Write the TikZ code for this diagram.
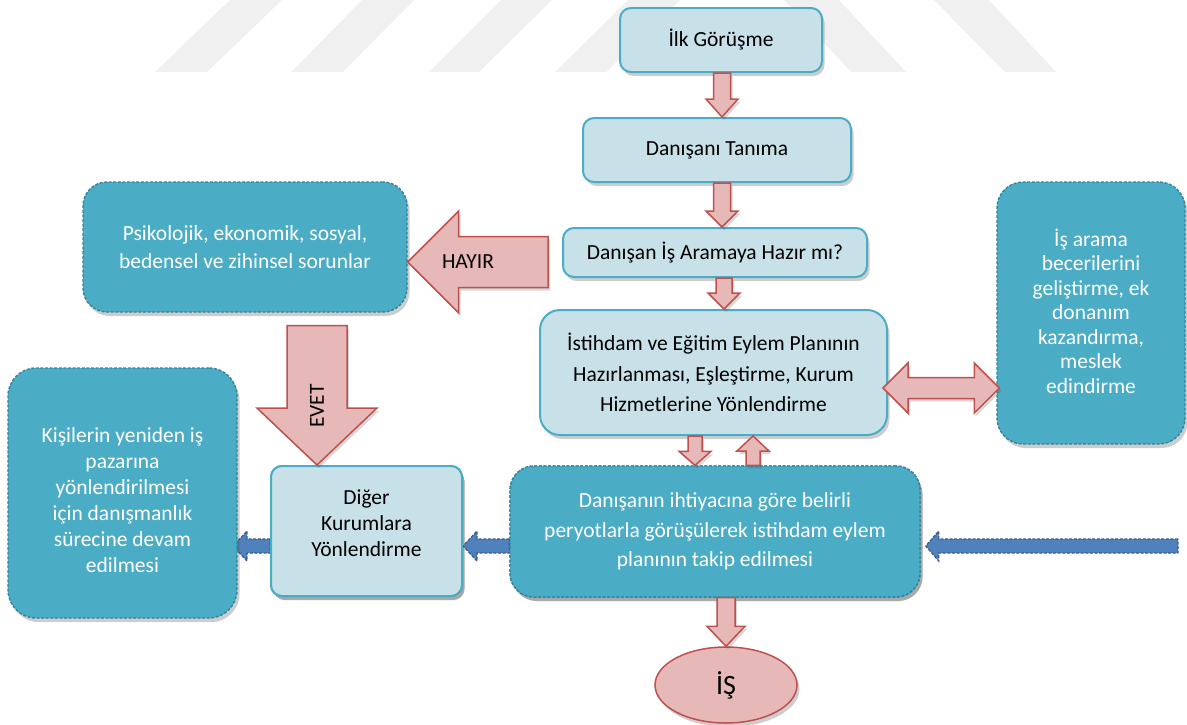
\documentclass[tikz,border=0pt]{standalone}
\usepackage{fontspec}
\setmainfont{Carlito}
\usetikzlibrary{calc,shadows,shapes.geometric}
\definecolor{wmgray}{RGB}{240,240,240}
\definecolor{lfill}{RGB}{200,225,232}
\definecolor{lborder}{RGB}{75,172,198}
\definecolor{tfill}{RGB}{75,172,198}
\definecolor{tborder}{RGB}{49,133,156}
\definecolor{pfill}{RGB}{230,185,184}
\definecolor{pborder}{RGB}{192,80,77}
\definecolor{bfill}{RGB}{79,129,189}
\definecolor{bborder}{RGB}{56,93,138}
% vertical down block arrow: style, from, to, x, half shaft, half head, head length
\newcommand{\vdownblock}[7]{%
  \draw[#1] let \p1=(#2), \p2=(#3) in
    (#4pt-#5pt,\y1) -- (#4pt+#5pt,\y1) -- (#4pt+#5pt,\y2+#7pt) -- (#4pt+#6pt,\y2+#7pt)
    -- (#4pt,\y2) -- (#4pt-#6pt,\y2+#7pt) -- (#4pt-#5pt,\y2+#7pt) -- cycle;}
% vertical up block arrow
\newcommand{\vupblock}[7]{%
  \draw[#1] let \p1=(#2), \p2=(#3) in
    (#4pt-#5pt,\y1) -- (#4pt+#5pt,\y1) -- (#4pt+#5pt,\y2-#7pt) -- (#4pt+#6pt,\y2-#7pt)
    -- (#4pt,\y2) -- (#4pt-#6pt,\y2-#7pt) -- (#4pt-#5pt,\y2-#7pt) -- cycle;}
% horizontal left block arrow: style, tail, tip, y (px down), half shaft, half head, head length
\newcommand{\hleftblock}[7]{%
  \draw[#1] let \p1=(#2), \p2=(#3) in
    (\x1,-#4pt+#5pt) -- (\x2+#7pt,-#4pt+#5pt) -- (\x2+#7pt,-#4pt+#6pt) -- (\x2,-#4pt)
    -- (\x2+#7pt,-#4pt-#6pt) -- (\x2+#7pt,-#4pt-#5pt) -- (\x1,-#4pt-#5pt) -- cycle;}
% horizontal double block arrow: style, left tip, right tip, y, half shaft, half head, head length
\newcommand{\hdoubleblock}[7]{%
  \draw[#1] let \p1=(#2), \p2=(#3) in
    (\x1,-#4pt) -- (\x1+#7pt,-#4pt+#6pt) -- (\x1+#7pt,-#4pt+#5pt) -- (\x2-#7pt,-#4pt+#5pt)
    -- (\x2-#7pt,-#4pt+#6pt) -- (\x2,-#4pt) -- (\x2-#7pt,-#4pt-#6pt) -- (\x2-#7pt,-#4pt-#5pt)
    -- (\x1+#7pt,-#4pt-#5pt) -- (\x1+#7pt,-#4pt-#6pt) -- cycle;}
\begin{document}
\begin{tikzpicture}[x=1pt,y=1pt,
  shad/.style={drop shadow={opacity=0.28,shadow xshift=2.5pt,shadow yshift=-4pt,fill=black!70}},
  lbox/.style={shad,draw=lborder,line width=2pt,fill=lfill,rounded corners=11pt,
    align=center,text=black,inner sep=0pt},
  dbox/.style={shad,draw=tborder,line width=1.4pt,dash pattern=on 3pt off 1.6pt,fill=tfill,
    rounded corners=24pt,align=center,text=white,inner sep=0pt},
  parrow/.style={draw=pborder,line width=1.5pt,fill=pfill,line join=miter,
    drop shadow={opacity=0.22,shadow xshift=2pt,shadow yshift=-3pt,fill=black!70}},
  barrow/.style={draw=bborder,line width=1.2pt,dash pattern=on 3pt off 1.6pt,fill=bfill},
  wm/.style={fill=wmgray,draw=none}]
\useasboundingbox (0,0) rectangle (1187,-724);
% watermark
\fill[wm] (155,-72) -- (207,-72) -- (282,0) -- (230,0) -- cycle;
\fill[wm] (291,-72) -- (343,-72) -- (414,0) -- (362,0) -- cycle;
\fill[wm] (429,-72) -- (479,-72) -- (552,0) -- (501,0) -- cycle;
\fill[wm] (555,-72) -- (606,-72) -- (680,0) -- (628,0) -- cycle;
\fill[wm] (851,-72) -- (906,-72) -- (839,0) -- (784,0) -- cycle;
\fill[wm] (1005,-72) -- (1056,-72) -- (989,0) -- (934,0) -- cycle;
% coordinates for free ends
\coordinate (bluetail) at (1178,-546);
\coordinate (hayirtail) at (548,-262);
% boxes drawn first for the blue arrows (behind)
\node[dbox,minimum width=410pt,minimum height=131pt] (takip) at (715,-531.5) {};
\node[lbox,minimum width=191pt,minimum height=130pt] (diger) at (366.5,-531) {};
\hleftblock{barrow}{bluetail}{$(takip.east)+(5,0)$}{546}{7}{15}{13}
\hleftblock{barrow}{takip.west}{diger.east}{546}{7}{15}{14}
\hleftblock{barrow}{diger.west}{$(diger.west)+(-37,0)$}{546}{7}{15}{14}
% boxes
\node[lbox,minimum width=202pt,minimum height=64pt,font=\fontsize{21.5}{26}\selectfont] (ilk) at (721,-40) {İlk Görüşme};
\node[lbox,minimum width=268pt,minimum height=64pt,font=\fontsize{21.5}{26}\selectfont] (tanima) at (717,-150) {Danışanı Tanıma};
\node[lbox,minimum width=304pt,minimum height=49pt,font=\fontsize{21.5}{26}\selectfont] (hazir) at (715,-252.5) {Danışan İş Aramaya Hazır mı?};
\node[lbox,rounded corners=20pt,minimum width=347pt,minimum height=125pt,font=\fontsize{21.5}{30.5}\selectfont] (plan) at (713.5,-372.5)
  {İstihdam ve Eğitim Eylem Planının\\Hazırlanması, Eşleştirme, Kurum\\Hizmetlerine Yönlendirme};
\node[dbox,minimum width=324pt,minimum height=130pt,font=\fontsize{21.5}{28}\selectfont] (psiko) at (245,-247)
  {Psikolojik, ekonomik, sosyal,\\bedensel ve zihinsel sorunlar};
\node[dbox,rounded corners=26pt,minimum width=188pt,minimum height=262pt,font=\fontsize{21.5}{24.5}\selectfont] (isarama) at (1091,-313)
  {İş arama\\becerilerini\\geliştirme, ek\\donanım\\kazandırma,\\meslek\\edindirme\\[-20pt]};
\node[dbox,rounded corners=28pt,minimum width=229pt,minimum height=250pt,font=\fontsize{21.5}{26}\selectfont] (kisiler) at (122.5,-493)
  {\\[4pt]Kişilerin yeniden iş\\pazarına\\yönlendirilmesi\\için danışmanlık\\sürecine devam\\edilmesi};
\node[lbox,minimum width=191pt,minimum height=130pt,font=\fontsize{21.5}{26}\selectfont] (diger2) at (366.5,-531)
  {Diğer\\Kurumlara\\Yönlendirme\\[-10pt]};
\node[dbox,minimum width=410pt,minimum height=131pt,font=\fontsize{21.5}{29.5}\selectfont] (takip2) at (715,-531.5)
  {Danışanın ihtiyacına göre belirli\\peryotlarla görüşülerek istihdam eylem\\planının takip edilmesi};
\node[ellipse,draw=pborder,line width=1.5pt,fill=pfill,shad,minimum width=142pt,minimum height=76pt,
  inner sep=0pt,font=\fontsize{28}{32}\selectfont] (is) at (726,-685) {İŞ};
% pink arrows
\vdownblock{parrow}{ilk.south}{tanima.north}{722}{8.5}{16}{18}
\vdownblock{parrow}{tanima.south}{hazir.north}{722}{8.5}{16}{16}
\vdownblock{parrow}{hazir.south}{plan.north}{724}{8}{16}{16}
\vdownblock{parrow}{plan.south}{takip.north}{695}{7}{16}{14}
\vupblock{parrow}{takip.north}{plan.south}{753}{7}{16}{15}
\vdownblock{parrow}{takip.south}{is.north}{726}{9}{19}{20}
\hdoubleblock{parrow}{$(plan.east)+(-5,0)$}{$(isarama.west)+(3,0)$}{388}{10.5}{25}{25}
\hleftblock{parrow}{hayirtail}{psiko.east}{262}{25.5}{51}{51}
\vdownblock{parrow}{$(psiko.south)+(0,-13)$}{diger.north}{317}{30}{60}{57}
% arrow labels
\node[font=\fontsize{21.5}{26}\selectfont] (hayirlbl) at (468,-262) {HAYIR};
\node[rotate=90,font=\fontsize{21.5}{26}\selectfont] (evetlbl) at (317,-406) {EVET};
\end{tikzpicture}
\end{document}
